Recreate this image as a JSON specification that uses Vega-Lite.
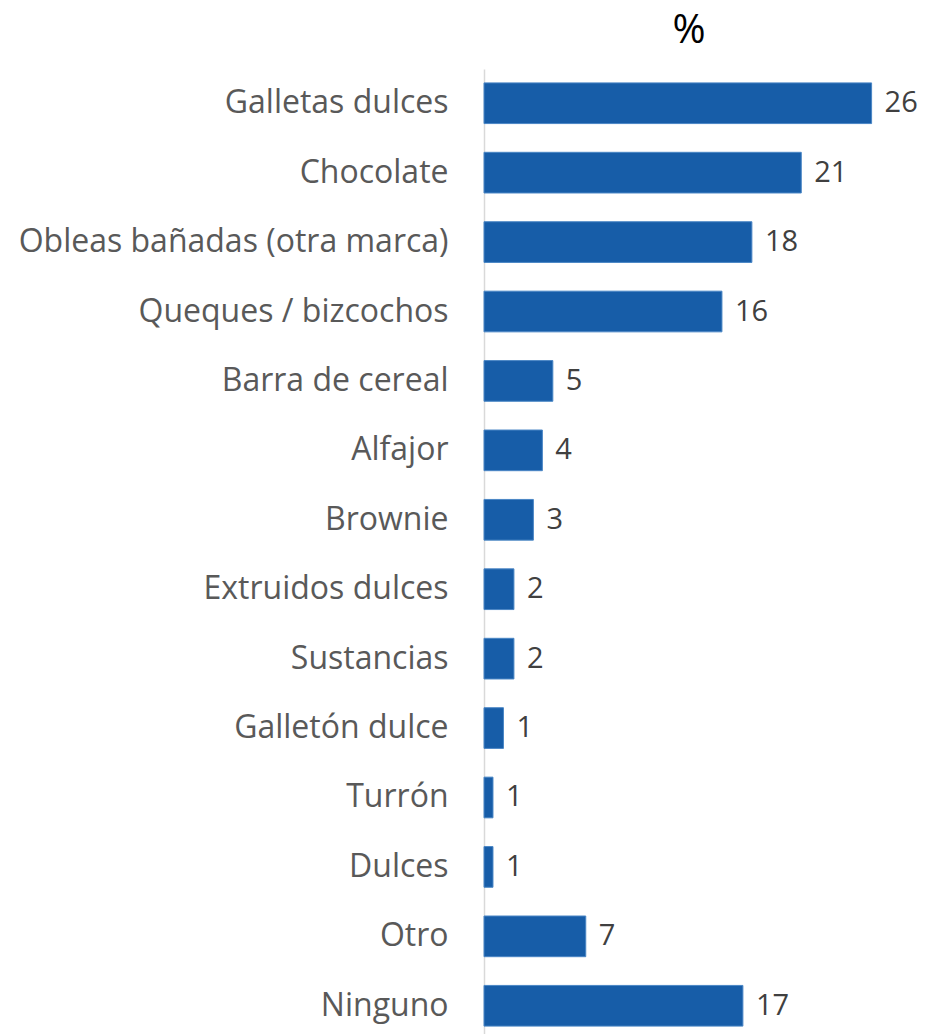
{
  "$schema": "https://vega.github.io/schema/vega-lite/v6.json",
  "autosize": {"type": "none"},
  "padding": {"left": 484, "top": 69, "right": 0, "bottom": 0},
  "width": 434,
  "height": 971,
  "background": "white",
  "title": {
    "text": "%",
    "fontSize": 40,
    "font": "Open Sans",
    "fontWeight": "normal",
    "color": "#000000",
    "anchor": "middle",
    "frame": "group",
    "dx": -12,
    "offset": 18
  },
  "data": {
    "values": [
      {"categoria": "Galletas dulces", "valor": 25.9, "etiqueta": "26"},
      {"categoria": "Chocolate", "valor": 21.2, "etiqueta": "21"},
      {"categoria": "Obleas bañadas (otra marca)", "valor": 17.9, "etiqueta": "18"},
      {"categoria": "Queques / bizcochos", "valor": 15.9, "etiqueta": "16"},
      {"categoria": "Barra de cereal", "valor": 4.6, "etiqueta": "5"},
      {"categoria": "Alfajor", "valor": 3.9, "etiqueta": "4"},
      {"categoria": "Brownie", "valor": 3.3, "etiqueta": "3"},
      {"categoria": "Extruidos dulces", "valor": 2.0, "etiqueta": "2"},
      {"categoria": "Sustancias", "valor": 2.0, "etiqueta": "2"},
      {"categoria": "Galletón dulce", "valor": 1.3, "etiqueta": "1"},
      {"categoria": "Turrón", "valor": 0.6, "etiqueta": "1"},
      {"categoria": "Dulces", "valor": 0.6, "etiqueta": "1"},
      {"categoria": "Otro", "valor": 6.8, "etiqueta": "7"},
      {"categoria": "Ninguno", "valor": 17.3, "etiqueta": "17"}
    ]
  },
  "encoding": {
    "y": {
      "field": "categoria",
      "type": "nominal",
      "sort": null,
      "scale": {"paddingInner": 0.414, "paddingOuter": 0.2},
      "axis": {
        "title": null,
        "ticks": false,
        "domainColor": "#d9d9d9",
        "domainWidth": 1.5,
        "labelFont": "Open Sans",
        "labelFontSize": 32,
        "labelColor": "#595959",
        "labelPadding": 36,
        "labelLimit": 600
      }
    },
    "x": {
      "field": "valor",
      "type": "quantitative",
      "scale": {"domain": [0, 29]},
      "axis": null
    }
  },
  "layer": [
    {
      "mark": {"type": "bar", "color": "#175da8", "stroke": "#4a86c5", "strokeWidth": 1}
    },
    {
      "mark": {
        "type": "text",
        "align": "left",
        "baseline": "middle",
        "dx": 13,
        "font": "Open Sans",
        "fontSize": 29,
        "color": "#404040"
      },
      "encoding": {"text": {"field": "etiqueta"}}
    }
  ],
  "config": {"view": {"stroke": null}}
}
